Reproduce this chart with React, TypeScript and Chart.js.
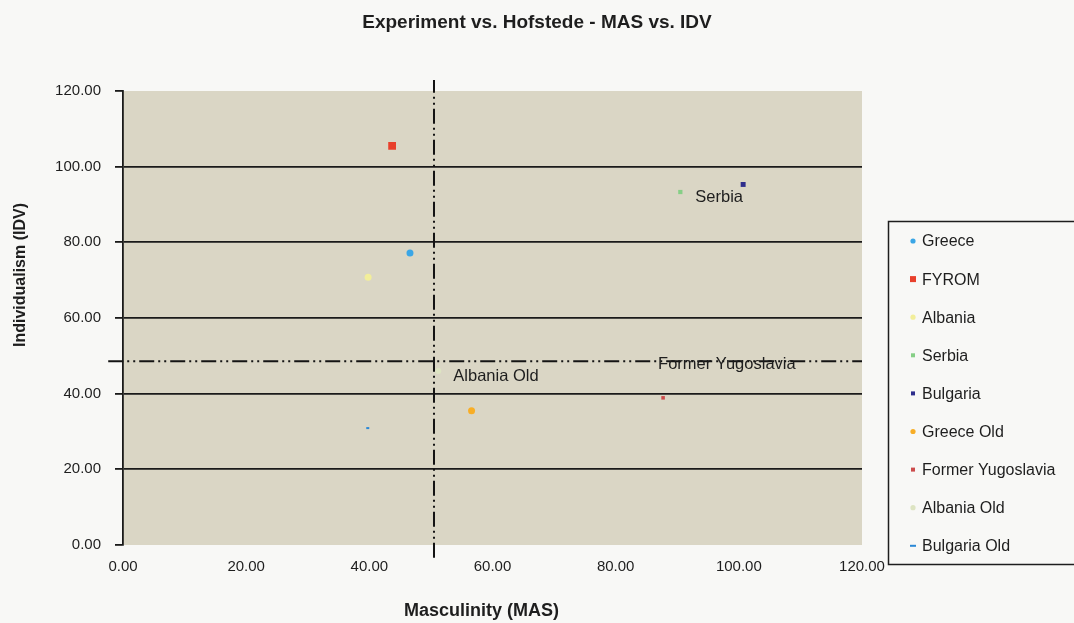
import React, { useEffect, useRef } from 'react';
import { Chart, registerables } from 'chart.js';

Chart.register(...registerables);

// ---- data ----
const SERIES_NAMES = ['Greece', 'FYROM', 'Albania', 'Serbia', 'Bulgaria', 'Greece Old', 'Former Yugoslavia', 'Albania Old', 'Bulgaria Old'];
const MAS_VALUES = [46.6, 43.7, 39.8, 90.5, 100.7, 56.6, 87.7, 51.2, 39.5];
const IDV_VALUES = [77.2, 105.5, 70.8, 93.3, 95.3, 35.5, 38.9, 46.0, 30.9];
const DATA_LABELS = ['', '', '', 'Serbia', '', '', 'Former Yugoslavia', 'Albania Old', ''];

const MAS_REFERENCE = 50.5;
const IDV_REFERENCE = 48.6;
const AXIS_MIN = 0;
const AXIS_MAX = 120;
const AXIS_STEP = 20;

const CHART_TITLE = 'Experiment vs. Hofstede - MAS vs. IDV';
const X_TITLE = 'Masculinity (MAS)';
const Y_TITLE = 'Individualism (IDV)';

// ---- styles ----
const SERIES_COLORS = ['#3aa6e6', '#e8402c', '#f2ee9a', '#86cf86', '#2e2e8c', '#f8ae26', '#cc4c4c', '#dde4c2', '#2a88d6'];
const POINT_STYLES = ['circle', 'rect', 'circle', 'rect', 'rect', 'circle', 'rect', 'circle', 'dash'];
const POINT_RADII = [3.5, 5.5, 3.5, 3, 3.5, 3.5, 2.5, 3, 3];
const LABEL_OFFSETS: [number, number][] = [[0, 0], [0, 0], [0, 0], [15, 5], [0, 0], [0, 0], [-5, -33], [15, 5], [0, 0]];
const FONT = "'Liberation Sans', Arial, sans-serif";
const INK = '#1e1e1e';
const PAGE_BG = '#f8f8f6';
const PLOT_BG = '#dad6c5';
const REF_DASH = [15, 4, 2, 4, 2, 4];

const fmt = (v: number | string) => Number(v).toFixed(2);

const decorPlugin = {
  id: 'decor',
  beforeDraw(chart: any) {
    const { ctx, chartArea: a, width, height } = chart;
    ctx.save();
    ctx.fillStyle = PAGE_BG;
    ctx.fillRect(0, 0, width, height);
    ctx.fillStyle = PLOT_BG;
    ctx.fillRect(a.left, a.top, a.right - a.left, a.bottom - a.top);
    ctx.restore();
  },
  afterDatasetsDraw(chart: any) {
    const { ctx } = chart;
    ctx.save();
    ctx.font = `16.5px ${FONT}`;
    ctx.fillStyle = INK;
    ctx.textBaseline = 'middle';
    ctx.textAlign = 'left';
    DATA_LABELS.forEach((txt, i) => {
      if (!txt) return;
      const pt = chart.getDatasetMeta(i).data[0];
      if (!pt) return;
      ctx.fillText(txt, pt.x + LABEL_OFFSETS[i][0], pt.y + LABEL_OFFSETS[i][1]);
    });
    ctx.restore();
  },
  afterDraw(chart: any) {
    const { ctx, chartArea: a, width } = chart;
    ctx.save();
    // chart title
    ctx.fillStyle = INK;
    ctx.font = `bold 19px ${FONT}`;
    ctx.textAlign = 'center';
    ctx.textBaseline = 'middle';
    ctx.fillText(CHART_TITLE, 537, 23);
    // x title
    ctx.font = `bold 18px ${FONT}`;
    ctx.fillText(X_TITLE, (a.left + a.right) / 2 - 11, 611);
    // y title
    ctx.save();
    ctx.translate(21, (a.top + a.bottom) / 2 - 43);
    ctx.rotate(-Math.PI / 2);
    ctx.font = `bold 16px ${FONT}`;
    ctx.fillText(Y_TITLE, 0, 0);
    ctx.restore();

    // legend
    const bx = a.right + 26;
    const by = 221;
    const bb = 564;
    ctx.strokeStyle = INK;
    ctx.lineWidth = 1.5;
    ctx.strokeRect(bx + 0.5, by + 0.5, width - bx + 10, bb - by);
    ctx.font = `16px ${FONT}`;
    ctx.textAlign = 'left';
    ctx.textBaseline = 'middle';
    SERIES_NAMES.forEach((name, i) => {
      const y = 242 + i * 38.1;
      const mx = bx + 25;
      ctx.fillStyle = SERIES_COLORS[i];
      ctx.strokeStyle = SERIES_COLORS[i];
      const st = POINT_STYLES[i];
      if (st === 'circle') {
        ctx.beginPath();
        ctx.arc(mx, y - 1, 2.6, 0, Math.PI * 2);
        ctx.fill();
      } else if (st === 'rect') {
        const s = i === 1 ? 6 : 4;
        ctx.fillRect(mx - s / 2, y - 1 - s / 2, s, s);
      } else {
        ctx.lineWidth = 2;
        ctx.beginPath();
        ctx.moveTo(mx - 3, y - 1);
        ctx.lineTo(mx + 3, y - 1);
        ctx.stroke();
      }
      ctx.fillStyle = INK;
      ctx.fillText(name, bx + 34, y);
    });
    ctx.restore();
  },
};

export default function App() {
  const ref = useRef<HTMLCanvasElement | null>(null);

  useEffect(() => {
    document.body.style.margin = '0';
    const canvas = ref.current;
    if (!canvas) return;

    const pointSets = SERIES_NAMES.map((name, i) => ({
      label: name,
      data: [{ x: MAS_VALUES[i], y: IDV_VALUES[i] }],
      backgroundColor: SERIES_COLORS[i],
      borderColor: SERIES_COLORS[i],
      borderWidth: POINT_STYLES[i] === 'dash' ? 2 : 0,
      pointStyle: POINT_STYLES[i],
      pointRadius: POINT_RADII[i],
      pointHoverRadius: POINT_RADII[i],
      showLine: false,
    }));

    const refLines = [
      {
        label: 'IDV reference',
        data: [{ x: AXIS_MIN - 2.4, y: IDV_REFERENCE }, { x: AXIS_MAX, y: IDV_REFERENCE }],
        showLine: true,
        borderColor: '#141414',
        borderWidth: 2,
        borderDash: REF_DASH,
        pointRadius: 0,
        clip: false,
      },
      {
        label: 'MAS reference',
        data: [{ x: MAS_REFERENCE, y: AXIS_MIN - 3.4 }, { x: MAS_REFERENCE, y: AXIS_MAX + 2.9 }],
        showLine: true,
        borderColor: '#141414',
        borderWidth: 2,
        borderDash: REF_DASH,
        pointRadius: 0,
        clip: false,
      },
    ];

    const chart = new Chart(canvas, {
      type: 'scatter',
      data: { datasets: [...pointSets, ...refLines] as any },
      options: {
        responsive: false,
        animation: false,
        layout: { padding: { top: 91, right: 212, left: 0, bottom: 0 } },
        plugins: {
          legend: { display: false },
          title: { display: false },
          tooltip: { enabled: false },
        },
        scales: {
          x: {
            type: 'linear',
            position: 'bottom',
            min: AXIS_MIN,
            max: AXIS_MAX,
            afterFit: (s: any) => { s.height = 78; },
            ticks: {
              stepSize: AXIS_STEP,
              callback: (v: any) => fmt(v),
              font: { family: FONT, size: 15 },
              color: INK,
              padding: 13,
              maxRotation: 0,
              autoSkip: false,
            },
            grid: { display: false, drawTicks: false },
            border: { display: false },
          },
          y: {
            type: 'linear',
            min: AXIS_MIN,
            max: AXIS_MAX,
            afterFit: (s: any) => { s.width = 123; },
            ticks: {
              stepSize: AXIS_STEP,
              callback: (v: any) => fmt(v),
              font: { family: FONT, size: 15 },
              color: INK,
              padding: 14,
            },
            grid: {
              color: (c: any) => (c.tick && (c.tick.value === AXIS_MIN || c.tick.value === AXIS_MAX) ? 'rgba(0,0,0,0)' : '#1a1a1a'),
              tickColor: '#1a1a1a',
              lineWidth: 1.8,
              tickLength: 8,
              drawTicks: true,
            },
            border: { display: true, color: '#1a1a1a', width: 1.8 },
          },
        },
      },
      plugins: [decorPlugin],
    } as any);

    return () => chart.destroy();
  }, []);

  return <canvas ref={ref} width={1074} height={623} style={{ display: 'block' }} />;
}
